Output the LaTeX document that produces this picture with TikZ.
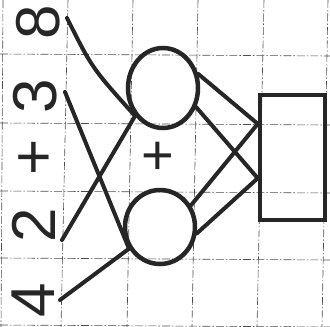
\documentclass[tikz,border=0pt]{standalone}
\usepackage{fontspec}
\setmainfont{Liberation Sans}
\usetikzlibrary{shapes.geometric,calc}
\begin{document}
\begin{tikzpicture}[x=1pt,y=-1pt,
  gridline/.style={black!70,line width=0.6pt,dash pattern=on 8pt off 2pt on 1.5pt off 2pt},
  stroke/.style={black!85,line width=4pt,line cap=round},
  digit/.style={rotate=90,font=\fontsize{62}{62}\selectfont,text=black!85,inner sep=0pt},
  neuron/.style={ellipse,draw=black!85,line width=4.5pt,inner sep=0pt},
  outbox/.style={rectangle,draw=black!85,line width=4.5pt,inner sep=0pt,minimum width=65pt,minimum height=125pt}
]
\useasboundingbox (0,0) rectangle (330,327);
% grid paper
\foreach \xt/\xb in {3/1,68/61,133/127,198/192,264/257,328/322}
  \draw[gridline] (\xt,0) -- (\xb,327);
\foreach \yl/\yr in {54/56,123/125,191/193,258/260,325/327}
  \draw[gridline] (0,\yl) -- (330,\yr);
% digits
\node[digit] (n8) at (38,22) {8};
\node[digit] (n3) at (35,96) {3};
\node[digit] (nplus) at (37,157) {+};
\node[digit] (n2) at (34,225) {2};
\node[digit] (n4) at (33,300) {4};
% neurons
\node[neuron,minimum width=70pt,minimum height=80pt] (c1) at (163,88) {};
\node[neuron,minimum width=70pt,minimum height=74pt] (c2) at (160,227) {};
\node[font=\fontsize{56}{56}\selectfont,text=black!85,inner sep=0pt] (mplus) at (158,158) {+};
\node[outbox] (r) at (292.5,157.5) {};
% input ends
\coordinate (i8) at (67,18);
\coordinate (i3) at (65,92);
\coordinate (i2) at (62,240);
\coordinate (i4) at (60,300);
\coordinate (r1) at ($(r.north west)!0.24!(r.south west)$);
\coordinate (r2) at ($(r.north west)!0.66!(r.south west)$);
% connectors
\draw[stroke] (i8) .. controls (92,68) .. (c1.225);
\draw[stroke] (i2) -- (c1.225);
\draw[stroke] (i3) -- (c2.215);
\draw[stroke] (i4) -- (c2.215);
\draw[stroke] (c1.22) -- (r1);
\draw[stroke] (c1.330) -- (r2);
\draw[stroke] (c2.35) -- (r1);
\draw[stroke] (c2.350) -- (r2);
\end{tikzpicture}
\end{document}
